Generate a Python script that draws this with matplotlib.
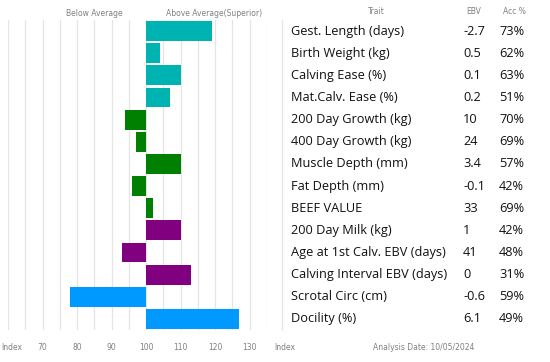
import matplotlib.pyplot as plt
from matplotlib.lines import Line2D
from matplotlib import transforms

traits = ['Gest. Length (days)', 'Birth Weight (kg)', 'Calving Ease (%)', 'Mat.Calv. Ease (%)',
          '200 Day Growth (kg)', '400 Day Growth (kg)', 'Muscle Depth (mm)', 'Fat Depth (mm)',
          'BEEF VALUE', '200 Day Milk (kg)', 'Age at 1st Calv. EBV (days)',
          'Calving Interval EBV (days)', 'Scrotal Circ (cm)', 'Docility (%)']
ebv = ['-2.7', '0.5', '0.1', '0.2', '10', '24', '3.4', '-0.1', '33', '1', '41', '0', '-0.6', '6.1']
acc = ['73%', '62%', '63%', '51%', '70%', '69%', '57%', '42%', '69%', '42%', '48%', '31%', '59%', '49%']
index = [119, 104, 110, 107, 94, 97, 110, 96, 102, 110, 93, 113, 78, 127]
colors = ['#00b3b3'] * 4 + ['#008000'] * 5 + ['#800080'] * 3 + ['#0099ff'] * 2
tick_vals = [70, 80, 90, 100, 110, 120, 130, 140]
tick_labels = ['70', '80', '90', '100', '110', '120', '130', 'Index']

W, H = 550, 362
fig = plt.figure(figsize=(W / 100, H / 100), dpi=100)
ax = fig.add_axes([8 / W, 1 - 330 / H, 259 / W, 310 / H])

rows = list(range(len(traits)))
ax.barh(rows, [v - 100 for v in index], left=100, height=0.9, color=colors, zorder=2)
ax.set_xlim(60, 135)
ax.set_ylim(len(traits) - 0.5, -0.5)
for x in range(60, 136, 5):
    ax.axvline(x, color='#e4e4e4', lw=0.9, zorder=1)
ax.set_xticks([])
ax.set_yticks([])
for s in ax.spines.values():
    s.set_visible(False)

small = dict(fontsize=5.5, color='#808080', family='DejaVu Sans')
bottom = transforms.blended_transform_factory(ax.transData, fig.transFigure)
for v, lab in zip(tick_vals, tick_labels):
    ax.text(v, 1 - 348 / H, lab, transform=bottom, ha='center', va='center', clip_on=False, **small)
fig.text(1 / W, 1 - 348 / H, 'Index', ha='left', va='center', **small)

fig.text(94 / W, 1 - 13 / H, 'Below Average', ha='center', va='center', **small)
fig.text(214 / W, 1 - 13 / H, 'Above Average(Superior)', ha='center', va='center', **small)
fig.text(376 / W, 1 - 12 / H, 'Trait', ha='center', va='center', **small)
fig.text(474 / W, 1 - 12 / H, 'EBV', ha='center', va='center', **small)
fig.text(514 / W, 1 - 12 / H, 'Acc %', ha='center', va='center', **small)
fig.text(424 / W, 1 - 348 / H, 'Analysis Date: 10/05/2024', ha='center', va='center', **small)

fig.add_artist(Line2D([282 / W, 282 / W], [1 - 20 / H, 1 - 330 / H], color='#e4e4e4', lw=0.9))

rowtr = transforms.blended_transform_factory(fig.transFigure, ax.transData)
big = dict(fontsize=9.2, color='#111111', family='Open Sans', va='center')
for i in rows:
    ax.text(291 / W, i, traits[i], transform=rowtr, ha='left', clip_on=False, **big)
    ax.text(463 / W, i, ebv[i], transform=rowtr, ha='left', clip_on=False, **big)
    ax.text(499 / W, i, acc[i], transform=rowtr, ha='left', clip_on=False, **big)

fig.savefig('out.png', dpi=100)
